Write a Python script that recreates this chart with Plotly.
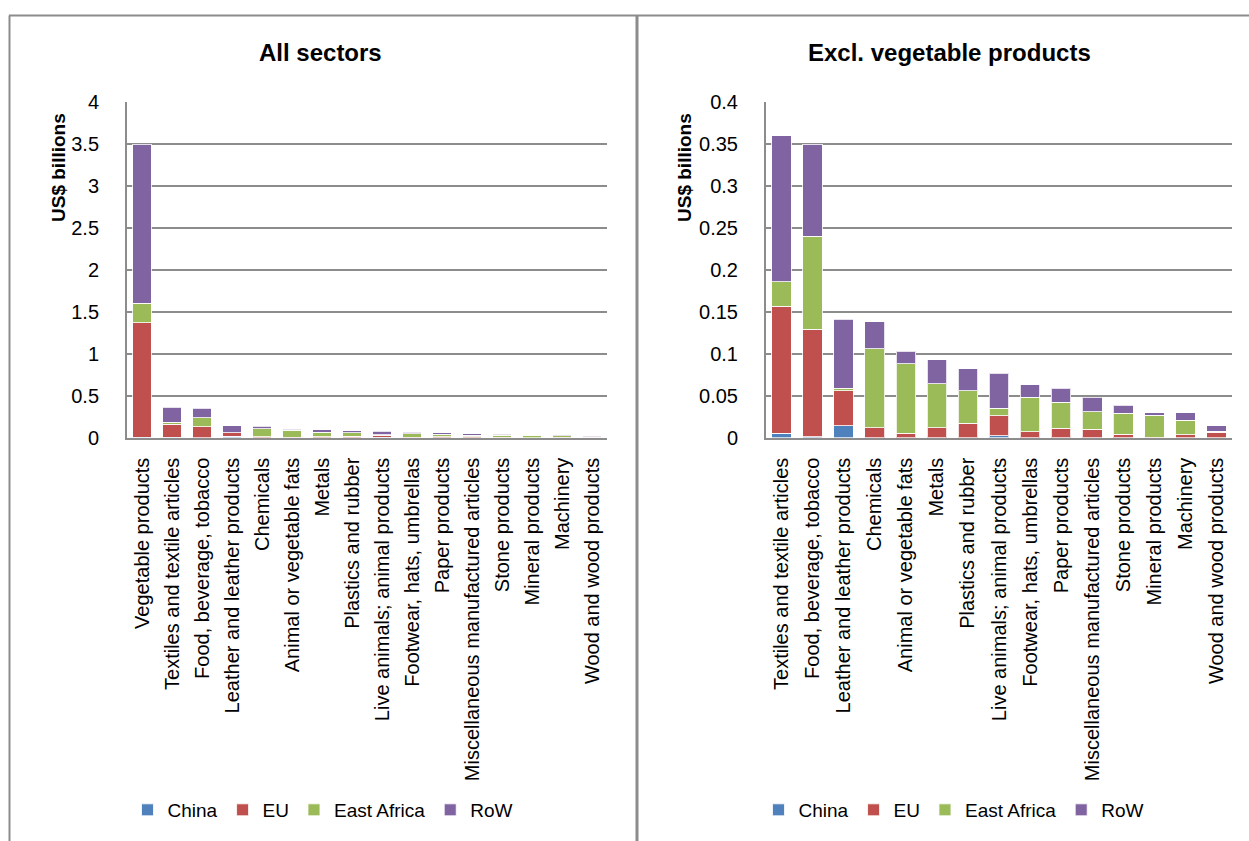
import plotly.graph_objects as go

# Sector categories (right panel excludes vegetable products)
sectors = [
    "Textiles and textile articles",
    "Food, beverage, tobacco",
    "Leather and leather products",
    "Chemicals",
    "Animal or vegetable fats",
    "Metals",
    "Plastics and rubber",
    "Live animals; animal products",
    "Footwear, hats, umbrellas",
    "Paper products",
    "Miscellaneous manufactured articles",
    "Stone products",
    "Mineral products",
    "Machinery",
    "Wood and wood products",
]
veg_label = "Vegetable products"

# US$ billions by source region
china = [0.005, 0.001, 0.014, 0.0, 0.0, 0.0, 0.0, 0.002, 0.0, 0.0, 0.0, 0.0, 0.0, 0.0, 0.0]
eu = [0.152, 0.128, 0.042, 0.012, 0.005, 0.012, 0.017, 0.024, 0.007, 0.011, 0.010, 0.004, 0.0005, 0.0036, 0.0064]
east_africa = [0.029, 0.111, 0.003, 0.094, 0.083, 0.052, 0.039, 0.009, 0.041, 0.031, 0.021, 0.025, 0.0265, 0.017, 0.001]
row = [0.174, 0.110, 0.082, 0.032, 0.015, 0.029, 0.026, 0.042, 0.015, 0.017, 0.017, 0.0096, 0.0028, 0.009, 0.007]

veg_china = 0.005
veg_eu = 1.365
veg_east_africa = 0.232
veg_row = 1.90

left_ticks = [0, 0.5, 1, 1.5, 2, 2.5, 3, 3.5, 4]
right_ticks = [0, 0.05, 0.1, 0.15, 0.2, 0.25, 0.3, 0.35, 0.4]

regions = ["China", "EU", "East Africa", "RoW"]
colors = ["#4F81BD", "#C0504D", "#9BBB59", "#8064A2"]
right_series = [china, eu, east_africa, row]
veg_values = [veg_china, veg_eu, veg_east_africa, veg_row]

FONT = "Liberation Sans, Arial, sans-serif"
GRID = "#8c8c8c"

fig = go.Figure()

all_sectors = [veg_label] + sectors
for name, color, vals, v0 in zip(regions, colors, right_series, veg_values):
    fig.add_trace(go.Bar(
        x=all_sectors, y=[v0] + vals, name=name,
        marker=dict(color=color, line=dict(color="rgba(255,255,255,0.8)", width=1)),
        xaxis="x", yaxis="y", legend="legend",
    ))
for name, color, vals in zip(regions, colors, right_series):
    fig.add_trace(go.Bar(
        x=sectors, y=vals, name=name,
        marker=dict(color=color, line=dict(color="rgba(255,255,255,0.8)", width=1)),
        xaxis="x2", yaxis="y2", legend="legend2",
    ))

xaxis_common = dict(
    type="category", tickangle=-90, showgrid=False, showline=True,
    linecolor=GRID, linewidth=2, ticks="", ticklabelstandoff=10,
    tickfont=dict(family=FONT, size=20, color="#000"),
)
yaxis_common = dict(
    showgrid=True, gridcolor=GRID, gridwidth=1.5, showline=True,
    linecolor=GRID, linewidth=2, ticks="", zeroline=False,
    ticklabelstandoff=22, tickfont=dict(family=FONT, size=20, color="#000"),
    domain=[0.4796, 0.8784],
)

legend_common = dict(
    orientation="h", y=0.0369, xanchor="center", yanchor="middle",
    traceorder="normal", font=dict(family=FONT, size=19, color="#000"),
    bgcolor="rgba(0,0,0,0)",
)


def text_note(text, x, y, size, angle=0):
    return dict(text=text, x=x, y=y, xref="paper", yref="paper",
                xanchor="center", yanchor="middle", textangle=angle,
                showarrow=False, font=dict(family=FONT, size=size, color="#000"))


fig.update_layout(
    width=1249, height=841,
    margin=dict(l=0, r=0, t=0, b=0, autoexpand=False),
    paper_bgcolor="white", plot_bgcolor="white",
    barmode="stack", bargap=0.37,
    xaxis=dict(domain=[0.1017, 0.486], range=[-0.5, 15.5], anchor="y", **xaxis_common),
    yaxis=dict(range=[0, 4], tickvals=left_ticks, anchor="x", **yaxis_common),
    xaxis2=dict(domain=[0.6133, 0.9864], range=[-0.5, 14.5], anchor="y2", **xaxis_common),
    yaxis2=dict(range=[0, 0.4], tickvals=right_ticks, anchor="x2", **yaxis_common),
    legend=dict(x=0.2586, **legend_common),
    legend2=dict(x=0.7638, **legend_common),
    annotations=[
        text_note("<b>All sectors</b>", 0.2566, 0.937, 24),
        text_note("<b>Excl. vegetable products</b>", 0.7606, 0.937, 24),
        text_note("<b>US$ billions</b>", 0.0464, 0.8014, 19, -90),
        text_note("<b>US$ billions</b>", 0.5476, 0.8014, 19, -90),
    ],
    shapes=[
        dict(type="line", xref="paper", yref="paper", x0=0.0072, x1=1.0, y0=0.9816, y1=0.9816,
             line=dict(color=GRID, width=2)),
        dict(type="line", xref="paper", yref="paper", x0=0.0076, x1=0.0076, y0=0.0, y1=0.9816,
             line=dict(color=GRID, width=2)),
        dict(type="line", xref="paper", yref="paper", x0=0.5100, x1=0.5100, y0=0.0, y1=0.9816,
             line=dict(color=GRID, width=3)),
    ],
)

fig.write_html("out.html")
